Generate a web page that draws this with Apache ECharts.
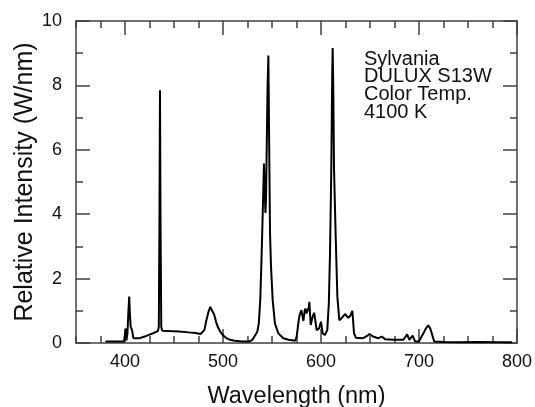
<!DOCTYPE html>
<html>
<head>
<meta charset="utf-8">
<script src="https://cdn.jsdelivr.net/npm/echarts@6/dist/echarts.min.js"></script>
<style>
html,body{margin:0;padding:0;background:#fff;}
#chart{width:535px;height:407px;}
</style>
</head>
<body>
<div id="chart"></div>
<script>
// Data
var wavelengths = [380,390,399,400,400.8,401.5,402.5,403.5,404.3,405,405.8,406.5,407.2,408.5,410,415,420,425,430,433.5,434.5,435.2,435.7,436.2,437,438,445,455,465,472,477,479,481,483,485,487,488,489,491,493,495,497,500,503,507,512,520,527,530,533,535,536.5,538,539,540,541,541.8,542.5,543.3,543.9,544.8,545.5,546.3,547,548,549,550.7,553,556.5,561.5,567,573.5,575.2,577,578,580,582,583.7,585.4,586.4,587.2,588.1,589.5,591.5,593,595.6,598,600,601.7,604,606.4,608,609.2,610.5,611.5,611.9,612.5,613.3,615,616.7,618.7,621,624.5,626,627.9,630,632,633.7,635.7,643,647,649.5,653,658.5,662,665.3,674,684,688,690,693.5,696,700,704.5,707,709.5,711.5,713,715.5,725,740,760,780,795];
var intensities = [0.05,0.05,0.05,0.05,0.45,0.08,0.3,1.0,1.44,0.9,0.5,0.45,0.4,0.15,0.1,0.15,0.2,0.26,0.32,0.37,0.5,4.0,7.85,4.0,0.5,0.38,0.37,0.36,0.33,0.31,0.28,0.3,0.4,0.7,0.95,1.12,1.16,1.1,0.88,0.65,0.48,0.36,0.24,0.16,0.1,0.07,0.05,0.05,0.1,0.25,0.35,0.6,1.33,2.3,3.4,4.6,5.57,4.8,4.04,4.5,6.5,8.0,8.93,6.5,3.4,2.37,1.33,0.6,0.3,0.15,0.1,0.07,0.2,0.65,0.85,1.02,0.69,1.07,0.92,1.07,1.0,1.28,0.56,0.82,0.94,0.4,0.45,0.66,0.3,0.25,0.4,1.23,2.8,5.4,8.5,9.16,8.0,5.4,3.3,1.44,0.71,0.77,0.9,0.85,0.78,0.85,1.0,0.3,0.16,0.15,0.22,0.28,0.2,0.15,0.2,0.12,0.1,0.1,0.27,0.1,0.23,0.05,0.05,0.3,0.45,0.55,0.45,0.3,0.05,0.03,0.02,0.03,0.02,0.02];
var xMajorTicks = [400,500,600,700,800];
var yTickLabels = [0,2,4,6,8,10];
var annotationLines = ['Sylvania','DULUX S13W','Color Temp.','4100 K'];
var xName = 'Wavelength (nm)';
var yName = 'Relative Intensity (W/nm)';

var FONT = "'Liberation Sans', Arial, sans-serif";
var AXC = '#404040';
var seriesData = wavelengths.map(function(w,i){return [w,intensities[i]];});

function xAx(pos, len, major, showLine, showLabel){
  var a = {
    type:'value', position:pos, min:350, max:800, interval:25,
    splitLine:{show:false},
    axisLine:{show:showLine, onZero:false, lineStyle:{color:AXC,width:1.5}},
    axisTick:{show:true, inside:true, length:len, lineStyle:{color:AXC,width:1.5}},
    axisLabel:{show:showLabel, interval:0, hideOverlap:false, margin:10, color:'#111', fontSize:18, fontFamily:FONT,
      formatter:function(v){return (xMajorTicks.indexOf(v)>=0)?String(v):'';}}
  };
  if(major){ a.axisTick.customValues = xMajorTicks; }
  return a;
}
function yAx(pos, len, interval, showLine, showLabel){
  return {
    type:'value', position:pos, min:0, max:10, interval:interval,
    splitLine:{show:false},
    axisLine:{show:showLine, onZero:false, lineStyle:{color:AXC,width:1.5}},
    axisTick:{show:true, inside:true, length:len, lineStyle:{color:AXC,width:1.5}},
    axisLabel:{show:showLabel, margin:14, color:'#111', fontSize:18, fontFamily:FONT,
      formatter:function(v){return (yTickLabels.indexOf(v)>=0)?String(v):'';}}
  };
}

var xs = [xAx('bottom',7,false,true,true), xAx('bottom',14,true,false,false), xAx('top',7,false,true,false), xAx('top',14,true,false,false)];
xs[0].name = xName; xs[0].nameLocation='middle'; xs[0].nameGap=42;
xs[0].nameTextStyle={fontSize:23.5, color:'#111', fontFamily:FONT};
var ys = [yAx('left',7,1,true,true), yAx('left',14,2,false,false), yAx('right',7,1,true,false), yAx('right',14,2,false,false)];
ys[0].name = yName; ys[0].nameLocation='middle'; ys[0].nameGap=38; ys[0].nameMoveOverlap=false;
ys[0].nameTextStyle={fontSize:25, color:'#111', fontFamily:FONT};

var chart = echarts.init(document.getElementById('chart'), null, {renderer:'canvas'});
chart.setOption({
  backgroundColor:'#fff',
  animation:false,
  grid:{left:76, top:21, right:18, bottom:64, containLabel:false, outerBoundsMode:'none'},
  xAxis: xs,
  yAxis: ys,
  series:[{
    type:'line', xAxisIndex:0, yAxisIndex:0, data:seriesData, showSymbol:false, symbol:'none',
    lineStyle:{color:'#000', width:2}, smooth:false, clip:true
  }],
  graphic:[{
    type:'text', left:364, top:49,
    style:{text:annotationLines.join('\n'), font:"20px 'Liberation Sans', Arial, sans-serif", fill:'#111', lineHeight:17.8}
  }]
});
</script>
</body>
</html>
